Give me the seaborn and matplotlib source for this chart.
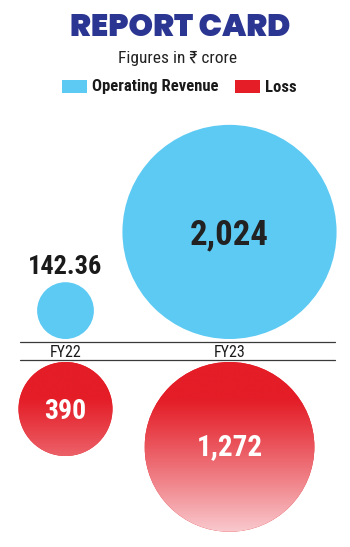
import numpy as np
import pandas as pd
import matplotlib
matplotlib.use("Agg")
import matplotlib.pyplot as plt
from matplotlib import font_manager as fm
from matplotlib.patches import Circle, Rectangle
from matplotlib.colors import to_rgba
import seaborn as sns

# ---- data ----
years = ["FY22", "FY23"]
revenue = [142.36, 2024]
loss = [390, 1272]
revenue_labels = ["142.36", "2,024"]
loss_labels = ["390", "1,272"]

title = "REPORT CARD"
subtitle = "Figures in ₹ crore"
legend_labels = ["Operating Revenue", "Loss"]

BLUE = "#5DCAF3"
RED = "#E41D27"
PALE = "#F9CED2"
NAVY = "#2B3592"

sns.set_style("white")

def pick(cands, wmin=0, wmax=1000):
    for c in cands:
        for f in fm.fontManager.ttflist:
            if (f.name == c and "[" not in f.fname and wmin <= f.weight <= wmax
                    and f.style == "normal"):
                return c
    return "DejaVu Sans"

COND_BOLD = pick(["Oswald", "Roboto Condensed", "Barlow Condensed", "Fjalla One",
                  "Saira SemiCondensed", "Archivo Narrow", "PT Sans Narrow",
                  "Liberation Sans Narrow"], 600)
COND_REG = pick(["Roboto Condensed", "Barlow Condensed", "Oswald", "Archivo Narrow",
                 "PT Sans Narrow", "Saira SemiCondensed", "Liberation Sans Narrow"], 300, 500)
HEAVY = pick(["Montserrat", "Gotham", "Poppins", "Raleway", "Nunito Sans", "Lato"], 800)
plt.rcParams["font.family"] = [COND_BOLD, "DejaVu Sans"]

W, H, DPI = 350, 547, 100
fig = plt.figure(figsize=(W / DPI, H / DPI), dpi=DPI)
ax = fig.add_axes([0, 0, 1, 1])
ax.set_xlim(0, W)
ax.set_ylim(H, 0)
ax.axis("off")

# layout
xcenter = {"FY22": 65.5, "FY23": 229.5}
k = 2.38          # px per sqrt(value)
top_base = 339    # bubbles above sit on this
bot_base = 362    # bubbles below hang from this

rev_r = [k * np.sqrt(v) for v in revenue]
loss_r = [k * np.sqrt(v) for v in loss]

def area_pts(r):
    return (2 * r * 72 / DPI) ** 2

df_rev = pd.DataFrame({
    "year": years, "value": revenue,
    "x": [xcenter[y] for y in years],
    "y": [top_base - r for r in rev_r],
})
df_loss = pd.DataFrame({
    "year": years, "value": loss,
    "x": [xcenter[y] for y in years],
    "y": [bot_base + r for r in loss_r],
})

sns.scatterplot(data=df_rev, x="x", y="y", size="value",
                sizes={v: area_pts(r) for v, r in zip(revenue, rev_r)},
                color=BLUE, linewidth=0, legend=False, ax=ax, zorder=2)
sns.scatterplot(data=df_loss, x="x", y="y", size="value",
                sizes={v: area_pts(r) for v, r in zip(loss, loss_r)},
                color=RED, linewidth=0, legend=False, ax=ax, zorder=2)

# gradient overlay on loss bubbles
red_c = np.array(to_rgba(RED))
pale_c = np.array(to_rgba(PALE))
for (_, row), r in zip(df_loss.iterrows(), loss_r):
    y0, y1 = row.y - r, row.y + r
    ys = np.linspace(y0, y1, 300)
    t = np.clip((ys - 398) / (535 - 398), 0, 1) ** 1.1
    img = (red_c[None, :] * (1 - t[:, None]) + pale_c[None, :] * t[:, None])[:, None, :]
    circ = Circle((row.x, row.y), r, transform=ax.transData, facecolor="none", edgecolor="none")
    ax.add_patch(circ)
    im = ax.imshow(img, extent=(row.x - r, row.x + r, y1, y0), aspect="auto",
                   zorder=3, interpolation="bilinear")
    im.set_clip_path(circ)
ax.set_xlim(0, W)
ax.set_ylim(H, 0)

# labels on bubbles
for (_, row), r, lab in zip(df_rev.iterrows(), rev_r, revenue_labels):
    if r < 40:
        ax.text(row.x, row.y - r - 8, lab, ha="center", va="baseline",
                fontsize=19, fontweight="bold", color="#1a1a1a", zorder=5)
    else:
        ax.text(row.x, row.y + 3, lab, ha="center", va="center",
                fontsize=25, fontweight="bold", color="#222222", zorder=5)
for (_, row), r, lab in zip(df_loss.iterrows(), loss_r, loss_labels):
    ax.text(row.x, row.y + 2 if r < 60 else row.y, lab, ha="center", va="center",
            fontsize=20 if r < 60 else 21, fontweight="bold", color="white", zorder=5)

# separator lines and year labels
ax.plot([20, 335], [342, 342], color="#3a3a3a", lw=0.9, zorder=4)
ax.plot([20, 335], [360, 360], color="#3a3a3a", lw=0.9, zorder=4)
for y in years:
    ax.text(xcenter[y], 352.5, y, ha="center", va="center", fontsize=11.5,
            color="#1a1a1a", zorder=5, family=[COND_REG, "DejaVu Sans"])

# title, subtitle
ax.text(W / 2 + 5, 29, title, ha="center", va="center", fontsize=22.5,
        fontweight="black", color=NAVY, family=[HEAVY, "DejaVu Sans"])
ax.text(178, 58, subtitle, ha="center", va="center", fontsize=12.5, color="#222222",
        family=[COND_REG, "DejaVu Sans"])

# legend
ax.add_patch(Rectangle((62, 80), 25, 13, facecolor=BLUE, edgecolor="none"))
ax.text(92, 87, legend_labels[0], ha="left", va="center", fontsize=12,
        fontweight="bold", color="#1a1a1a")
ax.add_patch(Rectangle((235, 80), 25, 13, facecolor=RED, edgecolor="none"))
ax.text(265, 87, legend_labels[1], ha="left", va="center", fontsize=12,
        fontweight="bold", color="#1a1a1a")

fig.savefig("out.png", dpi=DPI, facecolor="white")
